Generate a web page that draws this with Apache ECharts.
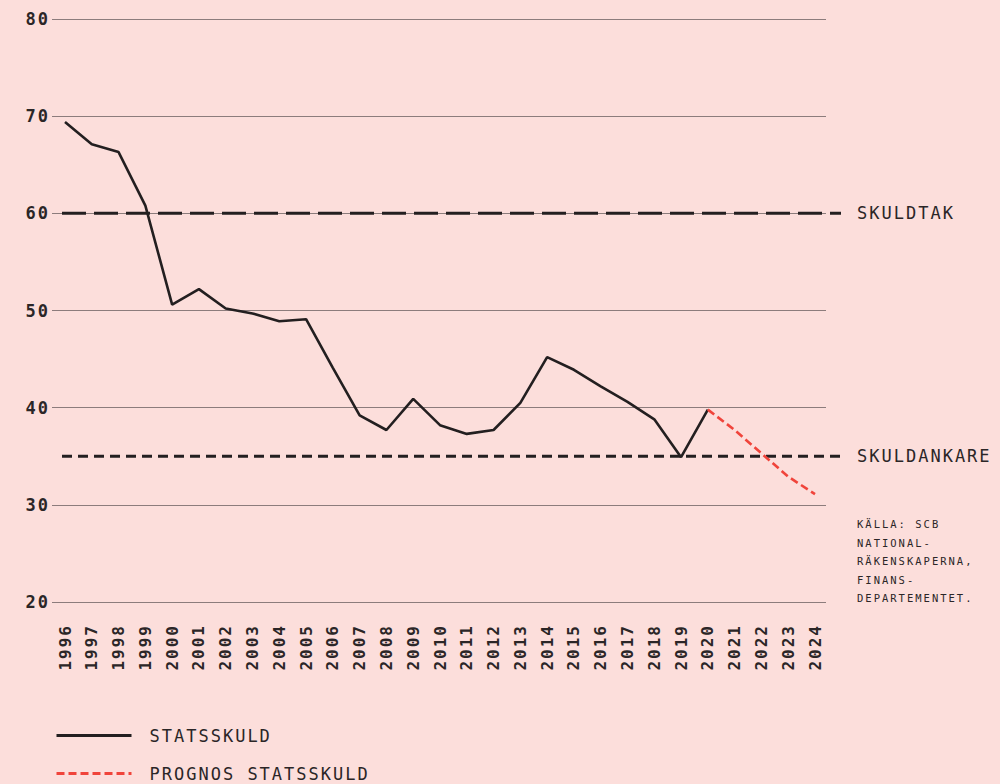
<!DOCTYPE html>
<html>
<head>
<meta charset="utf-8">
<script src="https://cdn.jsdelivr.net/npm/echarts@6/dist/echarts.min.js"></script>
<style>
  html, body { margin: 0; padding: 0; background: #fcdedb; }
  #chart { width: 1000px; height: 784px; }
  /* the original typeface is wide, so space the letters out a little */
  #chart svg text { letter-spacing: 2px; }
</style>
</head>
<body>
<div id="chart"></div>
<script>
var years = ['1996','1997','1998','1999','2000','2001','2002','2003','2004','2005',
             '2006','2007','2008','2009','2010','2011','2012','2013','2014','2015',
             '2016','2017','2018','2019','2020','2021','2022','2023','2024'];

// statsskuld, % av BNP
var statsskuld = [69.4, 67.1, 66.3, 60.8, 50.6, 52.2, 50.2, 49.7, 48.9, 49.1,
                  44.1, 39.2, 37.7, 40.9, 38.2, 37.3, 37.7, 40.5, 45.2, 43.9,
                  42.2, 40.6, 38.8, 34.9, 39.8, null, null, null, null];

var prognos = [null, null, null, null, null, null, null, null, null, null,
               null, null, null, null, null, null, null, null, null, null,
               null, null, null, null, 39.8, 37.7, 35.3, 32.9, 31.1];

var skuldtak = 60;
var skuldankare = 35;
var yTicks = [20, 30, 40, 50, 60, 70, 80];

var FONT = 'DejaVu Sans Mono';
var INK = '#231f20';
var RED = '#f0443b';
var GRID = '#8c7c7c';

var chart = echarts.init(document.getElementById('chart'), null, {renderer: 'svg'});

option = {
    backgroundColor: '#fcdedb',
    animation: false,
    textStyle: { fontFamily: FONT, color: '#2b2627' },
    grid: [
        // gridlines and y labels
        { left: 52, right: 174, top: 19, bottom: 182 },
        // data
        { left: 65, right: 185, top: 19, bottom: 182 },
        // reference lines
        { left: 62, right: 159, top: 19, bottom: 182 }
    ],
    xAxis: [
        { gridIndex: 0, type: 'value', min: 0, max: 1, show: false },
        {
            gridIndex: 1, type: 'category', data: years, boundaryGap: false,
            axisLine: { show: false }, axisTick: { show: false }, splitLine: { show: false },
            axisLabel: {
                interval: 0, rotate: 90, margin: 22,
                fontFamily: FONT, fontWeight: 'bold', fontSize: 16, color: '#2b2627'
            }
        },
        { gridIndex: 2, type: 'value', min: 0, max: 1, show: false }
    ],
    yAxis: [
        {
            gridIndex: 0, type: 'value', min: 20, max: 80, interval: 10,
            axisLine: { show: false }, axisTick: { show: false },
            splitLine: { lineStyle: { color: GRID, width: 1.2 } },
            axisLabel: {
                margin: 2, fontFamily: FONT, fontWeight: 'bold', fontSize: 17, color: '#2b2627',
                formatter: function (v) { return yTicks.indexOf(v) >= 0 ? String(v) : ''; }
            }
        },
        { gridIndex: 1, type: 'value', min: 20, max: 80, show: false },
        { gridIndex: 2, type: 'value', min: 20, max: 80, show: false }
    ],
    legend: {
        data: ['STATSSKULD', 'PROGNOS STATSSKULD'],
        orient: 'vertical',
        left: 55, top: 727, height: 75, padding: 0,
        itemWidth: 75, itemHeight: 20, itemGap: 21,
        itemStyle: { opacity: 0 },
        lineStyle: { width: 3 },
        textStyle: { fontFamily: FONT, fontSize: 17, color: '#2b2627', padding: [0, 0, 0, 13] }
    },
    series: [
        {
            name: 'SKULDTAK', type: 'line', xAxisIndex: 2, yAxisIndex: 2,
            data: [[0, skuldtak], [1, skuldtak]],
            symbol: 'none', silent: true,
            lineStyle: { color: INK, width: 3, type: [24, 8] },
            endLabel: { show: true, formatter: 'SKULDTAK', distance: 16,
                        fontFamily: FONT, fontSize: 17, color: '#2b2627' }
        },
        {
            name: 'SKULDANKARE', type: 'line', xAxisIndex: 2, yAxisIndex: 2,
            data: [[0, skuldankare], [1, skuldankare]],
            symbol: 'none', silent: true,
            lineStyle: { color: INK, width: 3, type: [10, 6] },
            endLabel: { show: true, formatter: 'SKULDANKARE', distance: 16,
                        fontFamily: FONT, fontSize: 17, color: '#2b2627' }
        },
        {
            name: 'STATSSKULD', type: 'line', xAxisIndex: 1, yAxisIndex: 1,
            data: statsskuld, symbol: 'none', z: 5,
            lineStyle: { color: INK, width: 2.6 },
            itemStyle: { color: INK }
        },
        {
            name: 'PROGNOS STATSSKULD', type: 'line', xAxisIndex: 1, yAxisIndex: 1,
            data: prognos, symbol: 'none', z: 5,
            lineStyle: { color: RED, width: 2.6, type: [8, 4] },
            itemStyle: { color: RED }
        }
    ],
    graphic: [{
        type: 'text', left: 857, top: 515,
        style: {
            text: 'KÄLLA: SCB\nNATIONAL-\nRÄKENSKAPERNA,\nFINANS-\nDEPARTEMENTET.',
            font: '10.5px "DejaVu Sans Mono"', lineHeight: 18.5, fill: '#2b2627'
        }
    }]
};

chart.setOption(option);
</script>
</body>
</html>
